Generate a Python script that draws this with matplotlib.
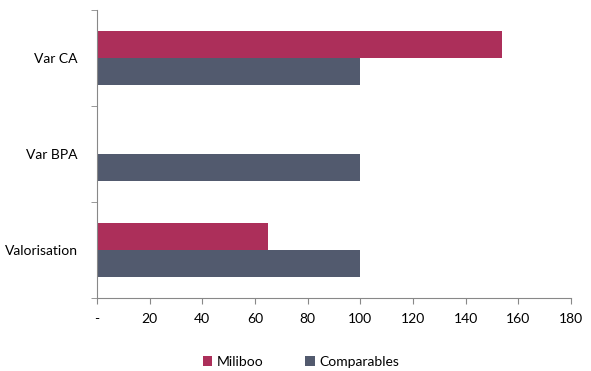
import numpy as np
import matplotlib.pyplot as plt

categories = ['Valorisation', 'Var BPA', 'Var CA']
miliboo = [65, 0, 154]
comparables = [100, 100, 100]
xticks = [0, 20, 40, 60, 80, 100, 120, 140, 160, 180]
xlabels = ['-', '20', '40', '60', '80', '100', '120', '140', '160', '180']

plt.rcParams['font.family'] = ['Lato', 'DejaVu Sans']

fig = plt.figure(figsize=(5.91, 3.71), dpi=100)
ax = fig.add_axes([0.164, 0.197, 0.802, 0.776])

pos = np.arange(len(categories))
h = 0.28
ax.barh(pos + h / 2, miliboo, height=h, color='#AC2F5A', label='Miliboo')
ax.barh(pos - h / 2, comparables, height=h, color='#525A6E', label='Comparables')

ax.set_xlim(0, 180)
ax.set_ylim(-0.5, 2.5)
ax.set_xticks(xticks)
ax.set_xticklabels(xlabels, fontsize=10)
ax.set_yticks(pos)
ax.set_yticklabels(categories, fontsize=10)
ax.set_yticks([-0.5, 0.5, 1.5, 2.5], minor=True)
ax.tick_params(axis='y', which='major', length=0, pad=14)
ax.tick_params(axis='y', which='minor', length=4, color='#888888')
ax.tick_params(axis='x', length=4, color='#888888', pad=7)

for s in ['top', 'right']:
    ax.spines[s].set_visible(False)
for s in ['left', 'bottom']:
    ax.spines[s].set_color('#888888')

ax.legend(loc='center', bbox_to_anchor=(0.43, -0.222), ncol=2, frameon=False,
          fontsize=10, handlelength=0.7, handleheight=0.7, handletextpad=0.3,
          columnspacing=3)

fig.savefig('out.png', dpi=100)
